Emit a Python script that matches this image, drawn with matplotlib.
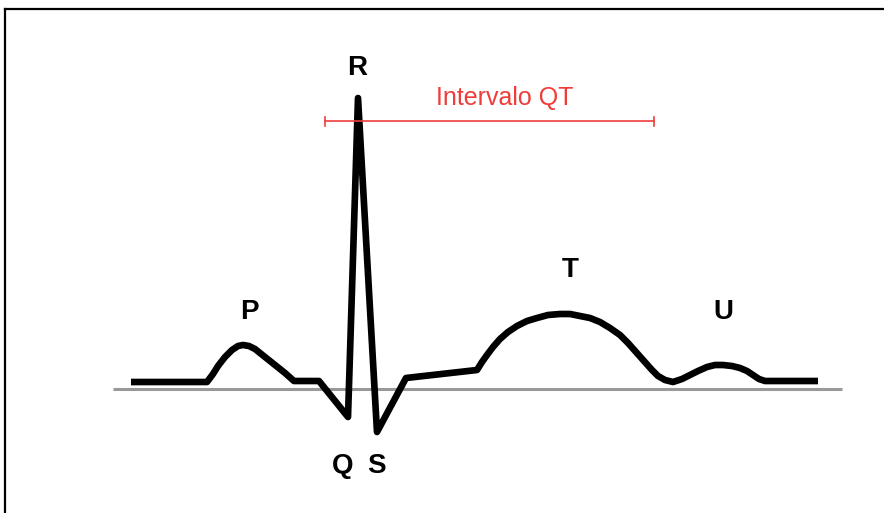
import matplotlib
matplotlib.use("Agg")
import matplotlib.pyplot as plt
from matplotlib.lines import Line2D

# ECG trace: time (ms) and height above the baseline
t_ms = [131, 207, 213, 218, 225, 232, 238, 243, 249, 255, 265, 275, 285, 294,
        319, 348, 358, 377, 406,
        477, 482, 487, 493, 500, 508, 517, 527, 537, 548, 560, 570, 580, 590,
        600, 610, 620, 628, 636, 644, 652, 658, 665, 673,
        682, 690, 698, 707, 715, 723, 732, 740, 747, 753, 759, 765, 818]
y_px = [382, 382, 374, 366, 357, 350, 346, 345, 346, 349, 357, 365, 373, 381,
        381, 417, 98, 432, 378,
        370, 362, 355, 347, 339, 332, 326, 321, 318, 315, 314, 314, 316, 318,
        322, 328, 335, 343, 352, 361, 370, 376, 380, 382,
        379, 375, 371, 367, 365, 365, 366, 368, 371, 375, 379, 381, 381]
baseline_y = 388.5
amp = [baseline_y - v for v in y_px]

baseline_t = [113, 842]

# wave labels
wave_names = ["P", "R", "Q", "S", "T", "U"]
wave_t = [249, 357, 343, 376, 570, 723]
wave_amp = [76.5, 320.5, -77.5, -77.5, 118.5, 76.5]

# QT interval
qt_start, qt_end = 325, 654
qt_amp = 267.5
qt_label = "Intervalo QT"

red = "#ee3d3a"

fig = plt.figure(figsize=(8.84, 5.13), dpi=100)
ax = fig.add_axes([0, 0, 1, 1])
ax.set_xlim(0, 884)
ax.set_ylim(-124.5, 388.5)
ax.axis("off")

# baseline
ax.plot(baseline_t, [0, 0], color="#999999", lw=2.2, solid_capstyle="butt", zorder=1)
# trace
ax.plot(t_ms, amp, color="black", lw=4.8, solid_joinstyle="round",
        solid_capstyle="butt", zorder=2)

for name, x, y in zip(wave_names, wave_t, wave_amp):
    ax.text(x, y, name, ha="center", va="center", fontsize=20,
            fontweight="bold", family="Liberation Sans", color="black")

# QT bar with end ticks
ax.plot([qt_start, qt_end], [qt_amp, qt_amp], color=red, lw=1.2, zorder=3)
for x in (qt_start, qt_end):
    ax.plot([x, x], [qt_amp - 4.5, qt_amp + 4.5], color=red, lw=1.2, zorder=3)
ax.text((433 + 577) / 2, 290.5, qt_label, ha="center", va="center",
        fontsize=18, family="Liberation Sans", color=red)

# frame (top and left edges only, the rest is cropped)
fig.add_artist(Line2D([4.5 / 884, 4.5 / 884], [0, 1 - 8.5 / 513], color="black", lw=1.6,
                      transform=fig.transFigure))
fig.add_artist(Line2D([4.5 / 884, 1], [1 - 8.5 / 513, 1 - 8.5 / 513], color="black", lw=1.6,
                      transform=fig.transFigure, solid_capstyle="projecting"))

fig.savefig("out.png", dpi=100, facecolor="white")
